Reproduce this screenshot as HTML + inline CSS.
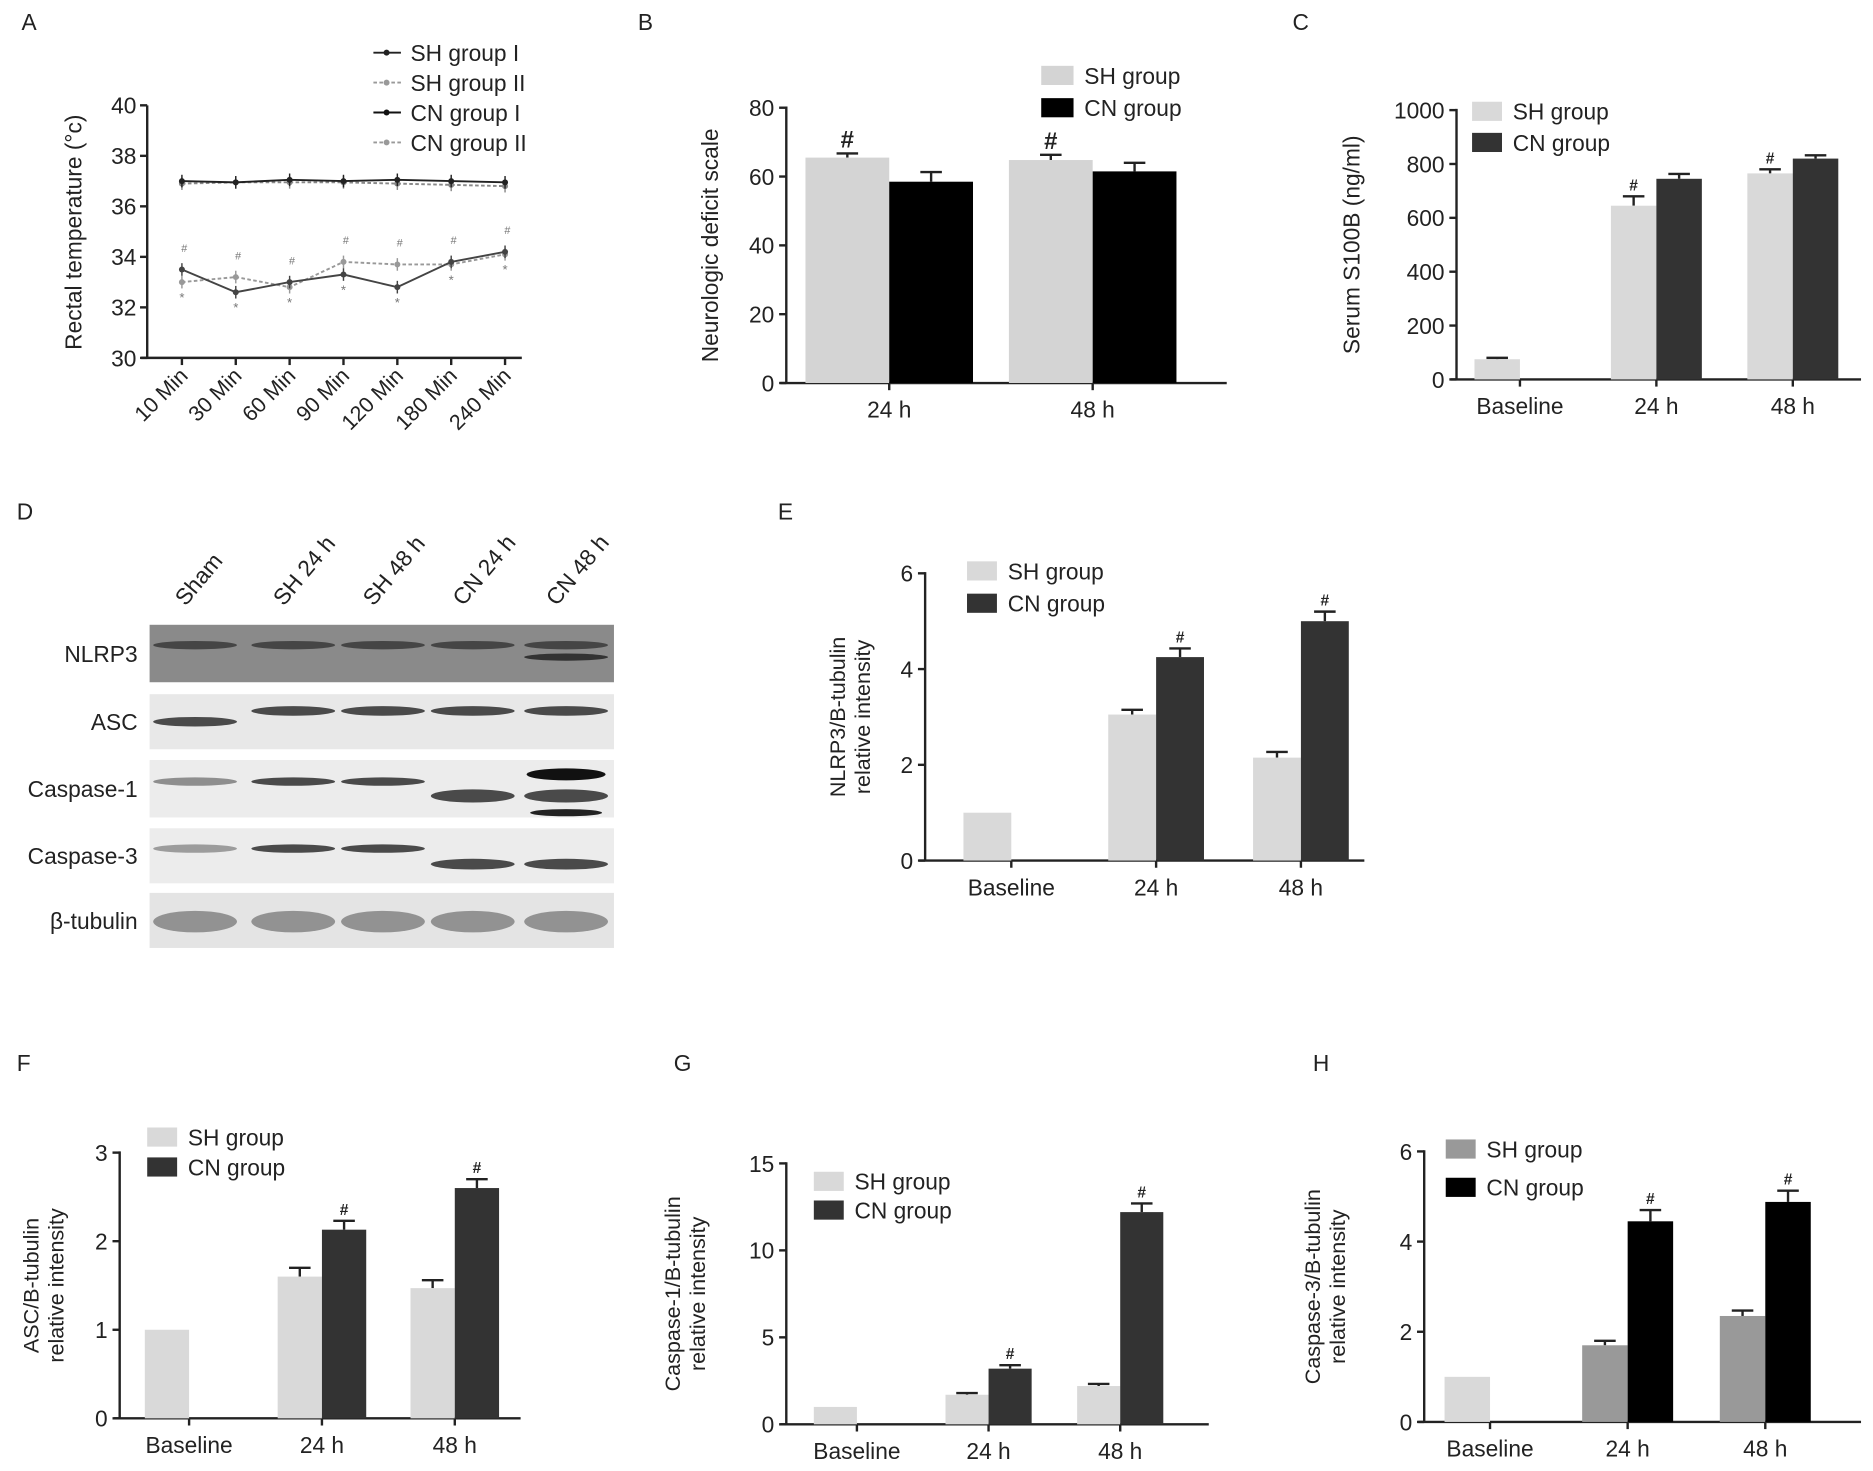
<!DOCTYPE html>
<html><head><meta charset="utf-8"><style>
html,body{margin:0;padding:0;background:#fff;}
svg{display:block;font-family:"Liberation Sans",Arial,sans-serif;}
</style></head><body>
<svg id="fig" width="1873" height="1471" viewBox="0 0 1565 1229" preserveAspectRatio="none" xmlns="http://www.w3.org/2000/svg">
<rect width="1565" height="1229" fill="#fff"/>
<g id="root"></g>
</svg>
<script>
// ---- Panel A data ----
const aCats = ["10 Min","30 Min","60 Min","90 Min","120 Min","180 Min","240 Min"];
const aSH1 = [33.5,32.6,33.0,33.3,32.8,33.8,34.2];
const aSH2 = [33.0,33.2,32.8,33.8,33.7,33.7,34.1];
const aCN1 = [37.0,36.95,37.05,37.0,37.05,37.0,36.95];
const aCN2 = [36.9,36.95,36.95,36.95,36.9,36.85,36.8];
const aTicks = [30,32,34,36,38,40];
// ---- Panel B ----
const bCats = ["24 h","48 h"];
const bSH = [65.5,64.8]; const bSHe = [1.2,1.5];
const bCN = [58.5,61.5]; const bCNe = [2.8,2.5];
const bTicks = [0,20,40,60,80];
// ---- Panel C ----
const cCats = ["Baseline","24 h","48 h"];
const cSH = [75,645,765]; const cSHe = [5,35,15];
const cCN = [null,745,820]; const cCNe = [0,18,12];
const cTicks = [0,200,400,600,800,1000];
// ---- Panel E ----
const eCats = ["Baseline","24 h","48 h"];
const eSH = [1.0,3.05,2.15]; const eSHe = [0,0.1,0.12];
const eCN = [null,4.25,5.0]; const eCNe = [0,0.18,0.2];
const eTicks = [0,2,4,6];
// ---- Panel F ----
const fCats = ["Baseline","24 h","48 h"];
const fSH = [1.0,1.6,1.47]; const fSHe = [0,0.1,0.09];
const fCN = [null,2.13,2.6]; const fCNe = [0,0.1,0.1];
const fTicks = [0,1,2,3];
// ---- Panel G ----
const gCats = ["Baseline","24 h","48 h"];
const gSH = [1.0,1.7,2.2]; const gSHe = [0,0.1,0.12];
const gCN = [null,3.2,12.2]; const gCNe = [0,0.2,0.5];
const gTicks = [0,5,10,15];
// ---- Panel H ----
const hCats = ["Baseline","24 h","48 h"];
const hSH = [1.0,1.7,2.35]; const hSHe = [0,0.1,0.12];
const hCN = [null,4.45,4.88]; const hCNe = [0,0.25,0.25];
const hTicks = [0,2,4,6];

const NS="http://www.w3.org/2000/svg";
const root=document.getElementById('root');
function el(tag,attrs,parent){const e=document.createElementNS(NS,tag);for(const k in attrs)e.setAttribute(k,attrs[k]);(parent||root).appendChild(e);return e;}
function txt(s,x,y,size,anchor,parent,extra){const t=el('text',Object.assign({x:x,y:y,'font-size':size,'text-anchor':anchor||'start',fill:'#222'},extra||{}),parent);t.textContent=s;return t;}
function lbl(s,x,y){const t=txt(s,x,y,19,'start');}

function barChart(o){
  const g=el('g',{});
  
  
  const ymax=o.ticks[o.ticks.length-1];
  const Y=v=>o.y0-(v/ymax)*(o.y0-o.y1);
  const X=i=>o.cx[0]+i*o.step;
  const ya=el('line',{x1:o.x0,y1:o.y1-1,x2:o.x0,y2:o.y0,stroke:'#222','stroke-width':2},g);
  
  const xa=el('line',{x1:o.x0-5,y1:o.y0,x2:o.xEnd,y2:o.y0,stroke:'#222','stroke-width':2},g);
  
  o.ticks.forEach(t=>{
    el('line',{x1:o.x0-6,y1:Y(t),x2:o.x0,y2:Y(t),stroke:'#222','stroke-width':2},g);
    const tl=txt(String(t),o.x0-10,Y(t)+7,19,'end',g);
    
  });
  const bw=o.bw;
  o.cats.forEach((c,i)=>{
    const cx=X(i);
    el('line',{x1:cx,y1:o.y0,x2:cx,y2:o.y0+6,stroke:'#222','stroke-width':2},g);
    const cl=txt(c,cx,o.y0+29,19,'middle',g);
    
    const pairs=[[o.sh,o.she,cx-bw,o.shCol,'sh',o.shHash],[o.cn,o.cne,cx,o.cnCol,'cn',o.cnHash]];
    if(o.cn[i]==null){pairs.length=1;pairs[0][2]=cx-bw;}
    pairs.forEach(([vals,errs,bx,col,key,hash])=>{
      const v=vals[i]; if(v==null)return;
      const e=errs[i]||0;
      if(e>0){
        el('line',{x1:bx+bw/2,y1:Y(v),x2:bx+bw/2,y2:Y(v+e),stroke:'#222','stroke-width':2},g);
        el('line',{x1:bx+bw/2-9,y1:Y(v+e),x2:bx+bw/2+9,y2:Y(v+e),stroke:'#222','stroke-width':2},g);
      }
      const r=el('rect',{x:bx,y:Y(v),width:bw,height:o.y0-Y(v),fill:(i===0&&o.baseCol)?o.baseCol:col},g);
      
      
      if(hash&&hash[i]){const h=txt('#',bx+bw/2,Y(v+e)-5,o.hashSize||13,'middle',g,{'font-weight':'bold'});}
    });
  });
  [['SH group',o.shCol,o.leg[1]],['CN group',o.cnCol,o.leg[2]]].forEach(([s,col,ly])=>{
    const lg=el('g',{},g);
    
    
    el('rect',{x:o.leg[0],y:ly-8,width:o.legW||25,height:16,fill:col},lg);
    txt(s,o.leg[0]+(o.legW||25)+9,ly+7,19,'start',lg);
  });
  const tg=el('g',{transform:`translate(${o.titleX},${(o.y0+o.y1)/2}) rotate(-90)`},g);
  
  if(o.title.length===1)txt(o.title[0],0,0,19,'middle',tg);
  else{txt(o.title[0],0,-10,18,'middle',tg);txt(o.title[1],0,11,18,'middle',tg);}
}

// Panel A
(function(){
  const g=el('g',{});
  
  
  const x0=123,y0=299,y1=88,xEnd=436;
  const Y=v=>y0-(v-30)/10*(y0-y1);
  const X=i=>152+i*45;
  el('line',{x1:x0,y1:y1,x2:x0,y2:y0,stroke:'#222','stroke-width':2},g);
  el('line',{x1:x0-5,y1:y0,x2:xEnd,y2:y0,stroke:'#222','stroke-width':2},g);
  aTicks.forEach(t=>{el('line',{x1:x0-6,y1:Y(t),x2:x0,y2:Y(t),stroke:'#222','stroke-width':2},g);txt(String(t),x0-9,Y(t)+7,19,'end',g);});
  aCats.forEach((c,i)=>{el('line',{x1:X(i),y1:y0,x2:X(i),y2:y0+6,stroke:'#222','stroke-width':2},g);
    const t=txt(c,X(i)+6,y0+16,18,'end',g,{transform:`rotate(-45 ${X(i)+6} ${y0+16})`});});
  const series=[[aCN2,'#888','3,2','cn-group-ii'],[aCN1,'#222','','cn-group-i'],[aSH2,'#999','3,2','sh-group-ii'],[aSH1,'#444','','sh-group-i']];
  series.forEach(([vals,col,dash,nm])=>{
    const p=el('polyline',{points:vals.map((v,i)=>X(i)+','+Y(v)).join(' '),fill:'none',stroke:col,'stroke-width':1.6,'stroke-dasharray':dash},g);
    
    vals.forEach((v,i)=>{el('line',{x1:X(i),y1:Y(v-0.25),x2:X(i),y2:Y(v+0.25),stroke:col,'stroke-width':1.2},g);
      el('circle',{cx:X(i),cy:Y(v),r:2.5,fill:col},g);});
  });
  aSH1.forEach((v,i)=>{const m=Math.max(v,aSH2[i]);txt('#',X(i)+2,Y(m+0.7),9,'middle',g,{fill:'#777'});
    txt('*',X(i),Y(Math.min(v,aSH2[i])-0.55)+5,11,'middle',g,{fill:'#777'});});
  const leg=[['SH group I','#222',''],['SH group II','#999','3,2'],['CN group I','#111',''],['CN group II','#999','3,2']];
  leg.forEach(([s,col,dash],k)=>{const ly=44+k*25;const lg=el('g',{},g);
    
    el('line',{x1:312,y1:ly,x2:335,y2:ly,stroke:col,'stroke-width':1.6,'stroke-dasharray':dash},lg);
    el('circle',{cx:323,cy:ly,r:2.5,fill:col},lg);txt(s,343,ly+7,19,'start',lg);});
  const tg=el('g',{transform:'translate(68,194) rotate(-90)'},g);
  
  txt('Rectal temperature (°c)',0,0,19,'middle',tg);
})();

barChart({name:'panel-b-bar-chart',cats:bCats,sh:bSH,she:bSHe,cn:bCN,cne:bCNe,ticks:bTicks,x0:657,y0:320,y1:90,xEnd:1025,cx:[743],step:170,bw:70,shCol:'#d4d4d4',cnCol:'#000',shHash:[1,1],hashSize:20,leg:[870,63,90],legW:27,title:['Neurologic deficit scale'],titleX:600});
barChart({name:'panel-c-bar-chart',cats:cCats,sh:cSH,she:cSHe,cn:cCN,cne:cCNe,ticks:cTicks,x0:1217,y0:317,y1:92,xEnd:1555,cx:[1270],step:114,bw:38,shCol:'#d9d9d9',cnCol:'#333',shHash:[0,1,1],leg:[1230,93,119],title:['Serum S100B (ng/ml)'],titleX:1136});
barChart({name:'panel-e-bar-chart',cats:eCats,sh:eSH,she:eSHe,cn:eCN,cne:eCNe,ticks:eTicks,x0:773,y0:719,y1:479,xEnd:1140,cx:[845],step:121,bw:40,shCol:'#d9d9d9',cnCol:'#333',cnHash:[0,1,1],leg:[808,477,504],title:['NLRP3/B-tubulin','relative intensity'],titleX:716});
barChart({name:'panel-f-bar-chart',cats:fCats,sh:fSH,she:fSHe,cn:fCN,cne:fCNe,ticks:fTicks,x0:100,y0:1185,y1:963,xEnd:435,cx:[158],step:111,bw:37,shCol:'#d9d9d9',cnCol:'#333',cnHash:[0,1,1],leg:[123,950,975],title:['ASC/B-tubulin','relative intensity'],titleX:42});
barChart({name:'panel-g-bar-chart',cats:gCats,sh:gSH,she:gSHe,cn:gCN,cne:gCNe,ticks:gTicks,x0:657,y0:1190,y1:972,xEnd:1010,cx:[716],step:110,bw:36,shCol:'#d9d9d9',cnCol:'#333',cnHash:[0,1,1],leg:[680,987,1011],title:['Caspase-1/B-tubulin','relative intensity'],titleX:578});
barChart({name:'panel-h-bar-chart',cats:hCats,sh:hSH,she:hSHe,cn:hCN,cne:hCNe,ticks:hTicks,x0:1190,y0:1188,y1:962,xEnd:1555,cx:[1245],step:115,bw:38,shCol:'#999',baseCol:'#d9d9d9',cnCol:'#000',cnHash:[0,1,1],leg:[1208,960,992],title:['Caspase-3/B-tubulin','relative intensity'],titleX:1113});

// Panel D blot
(function(){
  const g=el('g',{});
  
  
  const lanes=["Sham","SH 24 h","SH 48 h","CN 24 h","CN 48 h"];
  const lx=[163,245,320,395,473];
  lanes.forEach((s,i)=>{const t=txt(s,lx[i]-8,507,19,'start',g,{transform:`rotate(-50 ${lx[i]-8} 507)`});});
  const rows=[['NLRP3',522,570,'#8a8a8a'],['ASC',580,626,'#e8e8e8'],['Caspase-1',635,683,'#ececec'],['Caspase-3',692,738,'#ececec'],['β-tubulin',746,792,'#e4e4e4']];
  rows.forEach(([n,t,b,bg],r)=>{
    const rg=el('g',{},g);
    
    el('rect',{x:125,y:t,width:388,height:b-t,fill:bg},rg);
    txt(n,115,(t+b)/2+7,19,'end',rg);
    lx.forEach((x,i)=>{
      let cy=(t+b)/2, h=5, col='#333', op=0.8;
      if(r===0){cy=t+17;h=5;col='#333';}
      if(r===1){cy=i===0?t+23:t+14;h=6;col='#222';}
      if(r===2){cy=i>=3?t+30:t+18;h=i>=3?9:5;col=i===0?'#777':'#222';}
      if(r===3){cy=i>=3?t+30:t+17;h=i>=3?7:5;col=i===0?'#888':'#222';}
      if(r===4){cy=t+24;h=16;col='#777';op=0.75;}
      el('ellipse',{cx:x,cy:cy,rx:35,ry:h/2+1,fill:col,opacity:op},rg);
      if(r===0&&i===4)el('ellipse',{cx:x,cy:t+27,rx:35,ry:3,fill:'#333'},rg);
      if(r===2&&i===4){el('ellipse',{cx:x,cy:t+12,rx:33,ry:5,fill:'#111'},rg);el('ellipse',{cx:x,cy:t+44,rx:30,ry:3,fill:'#222'},rg);}
    });
  });
})();

lbl('A',18,25);lbl('B',533,25);lbl('C',1080,25);lbl('D',14,434);lbl('E',650,434);lbl('F',14,895);lbl('G',563,895);lbl('H',1097,895);
</script>
</body></html>
